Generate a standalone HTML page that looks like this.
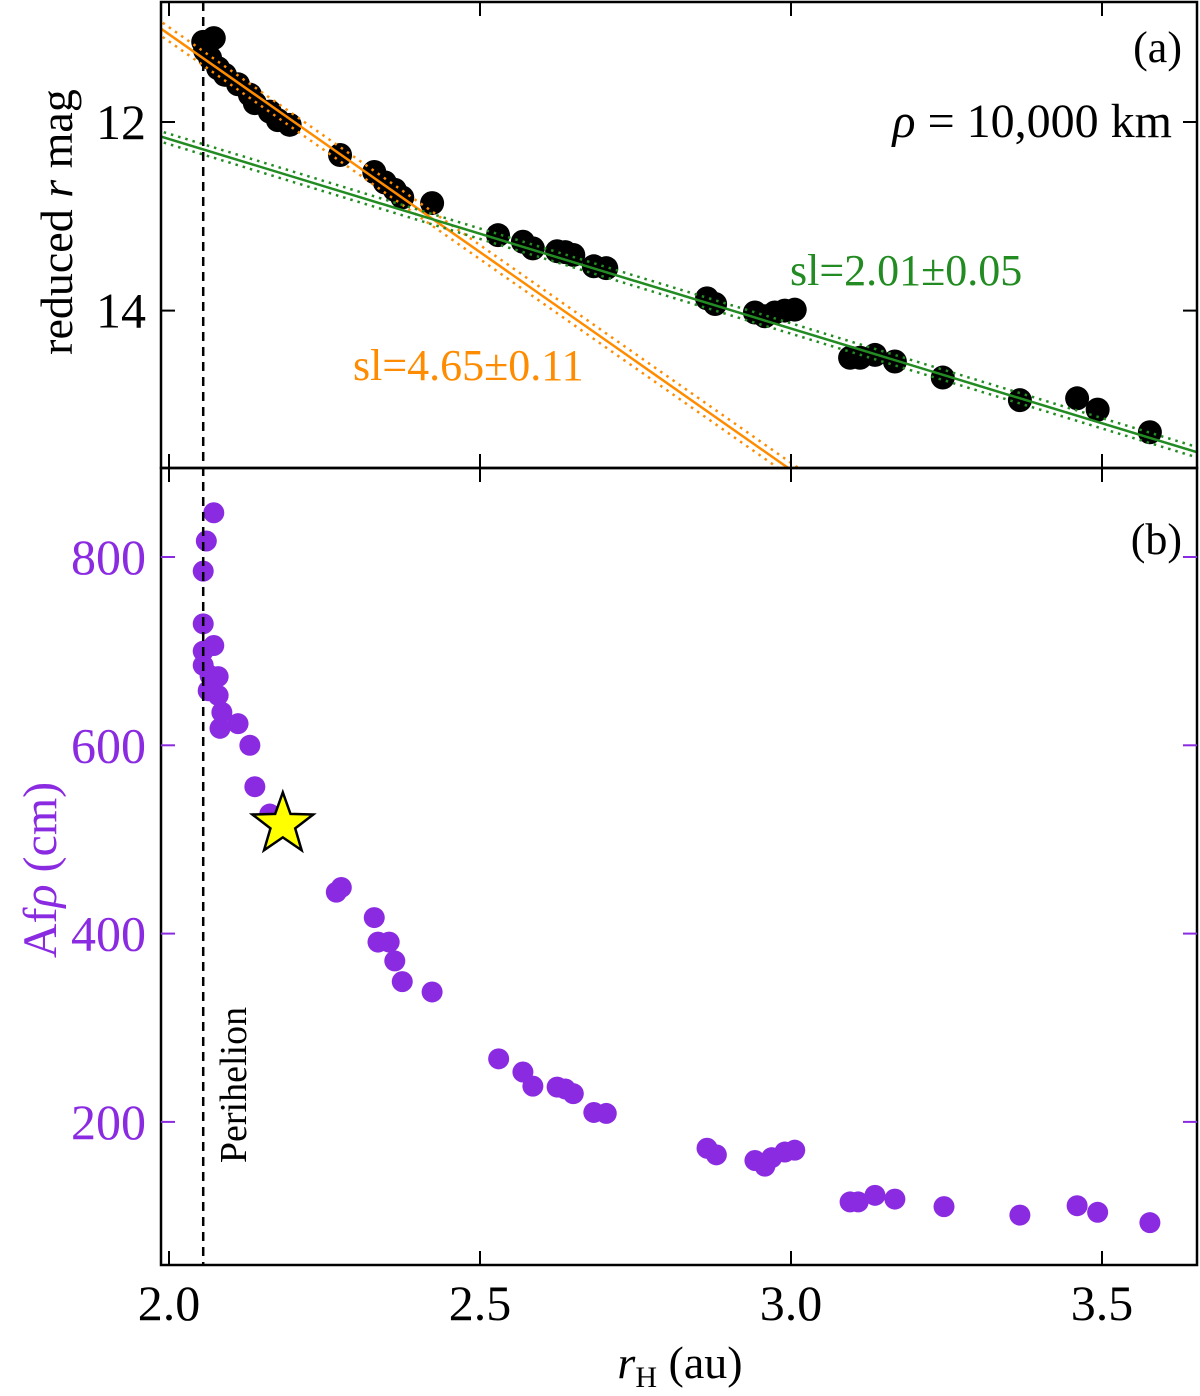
<!DOCTYPE html>
<html><head><meta charset="utf-8"><style>
body{margin:0;background:#fff}
svg{display:block;font-family:"Liberation Serif",serif}
</style></head><body>
<svg id="c" width="1200" height="1396" viewBox="0 0 1200 1396" xmlns="http://www.w3.org/2000/svg"></svg>
<script>
const rTop=[2.055,2.072,2.058,2.066,2.079,2.090,2.111,2.130,2.138,2.162,2.175,2.194,2.275,2.330,2.347,2.363,2.375,2.423,2.529,2.569,2.585,2.624,2.637,2.650,2.683,2.703,2.865,2.878,2.942,2.958,2.974,2.990,3.006,3.095,3.111,3.135,3.167,3.244,3.368,3.460,3.493,3.577];
const magTop=[11.15,11.11,11.24,11.32,11.43,11.50,11.60,11.71,11.80,11.89,11.98,12.03,12.35,12.53,12.64,12.72,12.80,12.86,13.20,13.27,13.34,13.37,13.38,13.41,13.53,13.55,13.87,13.93,14.02,14.06,14.02,14.00,13.99,14.50,14.50,14.47,14.54,14.71,14.95,14.93,15.05,15.29];
const rBot=[2.055,2.060,2.072,2.055,2.055,2.055,2.072,2.066,2.079,2.063,2.079,2.085,2.082,2.111,2.130,2.138,2.162,2.175,2.269,2.277,2.330,2.336,2.354,2.363,2.375,2.423,2.530,2.569,2.585,2.624,2.637,2.650,2.683,2.703,2.865,2.880,2.942,2.958,2.969,2.990,3.006,3.095,3.108,3.135,3.167,3.246,3.368,3.460,3.493,3.577];
const afBot=[785,817,847,729,700,685,706,674,673,658,653,635,618,623,600,556,527,519,444,449,417,391,391,371,349,338,267,253,238,237,235,230,210,209,172,165,159,153,162,168,170,115,115,122,118,110,101,111,104,93];
const starR=[2.183], starAf=[516];
const orangeSl=4.62, orangeA=11.07, greenSl=2.01, greenA=12.18;
const xTicks=[2.0,2.5,3.0,3.5], magTicks=[12,14], afTicks=[200,400,600,800];

const S=document.getElementById('c'),NS='http://www.w3.org/2000/svg';
const X=r=>169+(r-2)*622;
const Ym=m=>122+(m-12)*94.3;
const Ya=a=>557+(800-a)*0.9415;
const L=161,R=1197,T=2,M=468,B=1265;
function el(t,a,p){const e=document.createElementNS(NS,t);for(const k in a)e.setAttribute(k,a[k]);(p||S).appendChild(e);return e;}
function tx(s,a){const e=el('text',a);e.textContent=s;return e;}
const defs=el('defs',{});
const c1=el('clipPath',{id:'ct'},defs);el('rect',{x:L,y:T,width:R-L,height:M-T},c1);
const c2=el('clipPath',{id:'cb'},defs);el('rect',{x:L,y:M,width:R-L,height:B-M},c2);
const gt=el('g',{'clip-path':'url(#ct)'});
const gb=el('g',{'clip-path':'url(#cb)'});
const ph=el('line',{x1:X(2.055),x2:X(2.055),y1:T,y2:B,stroke:'#000','stroke-width':2.5,'stroke-dasharray':'9,6'});

rTop.forEach((r,i)=>{const c=el('circle',{cx:X(r),cy:Ym(magTop[i]),r:12,fill:'#000'},gt);
});
function fit(a,sl,col,name,off){const r0=1.98,r1=3.7;
 [[0,'none'],[off,'2.5,5'],[-off,'2.5,5']].forEach(([o,d],k)=>{
  const l=el('line',{x1:X(r0),y1:Ym(a+sl*(r0-2)+o),x2:X(r1),y2:Ym(a+sl*(r1-2)+o),stroke:col,'stroke-width':2.5,'stroke-dasharray':d},gt);
  });}
fit(orangeA,orangeSl,'#ff8c00','orange-fit',0.075);
fit(greenA,greenSl,'#228b22','green-fit',0.055);
rBot.forEach((r,i)=>{const c=el('circle',{cx:X(r),cy:Ya(afBot[i]),r:10.5,fill:'#8a2be2'},gb);
});
starR.forEach((r,i)=>{const cx=X(r),cy=Ya(starAf[i]);let p='';for(let k=0;k<10;k++){const rr=k%2?13:32,a=-Math.PI/2+k*Math.PI/5;p+=(cx+rr*Math.cos(a))+','+(cy+rr*Math.sin(a))+' ';}
const s=el('polygon',{points:p,fill:'#ffff00',stroke:'#000','stroke-width':2.5},gb);
});
[[T,M],[M,B]].forEach(([a,b])=>{el('rect',{x:L,y:a,width:R-L,height:b-a,fill:'none',stroke:'#000','stroke-width':2.5});});
xTicks.forEach(v=>{const x=X(v);
 [[T,1],[M,-1],[M,1],[B,-1]].forEach(([y,d])=>el('line',{x1:x,x2:x,y1:y,y2:y+d*14,stroke:'#000','stroke-width':2}));
 const t=tx(v.toFixed(1),{x:x,y:1320,'font-size':50,'text-anchor':'middle'});
 });
magTicks.forEach(v=>{const y=Ym(v);
 el('line',{x1:L,x2:L+14,y1:y,y2:y,stroke:'#000','stroke-width':2});el('line',{x1:R,x2:R-14,y1:y,y2:y,stroke:'#000','stroke-width':2});
 const t=tx(String(v),{x:146,y:y+17,'font-size':50,'text-anchor':'end'});
 });
afTicks.forEach(v=>{const y=Ya(v);
 el('line',{x1:L,x2:L+14,y1:y,y2:y,stroke:'#8a2be2','stroke-width':2});el('line',{x1:R,x2:R-14,y1:y,y2:y,stroke:'#8a2be2','stroke-width':2});
 const t=tx(String(v),{x:146,y:y+17,'font-size':50,'text-anchor':'end',fill:'#8a2be2'});
 });
</script>
<div style="position:absolute;left:0;top:0;width:1200px;height:1396px;pointer-events:none;font-family:'Liberation Serif',serif">
<svg width="1200" height="1396" style="position:absolute;left:0;top:0">
<text x="680" y="1378" font-size="46" text-anchor="middle"><tspan font-style="italic">r</tspan><tspan font-size="30" dy="9">H</tspan><tspan dy="-9"> (au)</tspan></text>
<text transform="translate(72,222) rotate(-90)" font-size="46" text-anchor="middle">reduced <tspan font-style="italic">r</tspan> mag</text>
<text transform="translate(56,870) rotate(-90)" font-size="48" text-anchor="middle" fill="#8a2be2">Af<tspan font-style="italic">ρ</tspan> (cm)</text>
<text x="1182" y="62" font-size="44" text-anchor="end">(a)</text>
<text x="1182" y="554" font-size="44" text-anchor="end">(b)</text>
<text x="1172" y="137" font-size="48" text-anchor="end"><tspan font-style="italic">ρ</tspan> = 10,000 km</text>
<text x="790" y="285" font-size="44" fill="#228b22">sl=2.01±0.05</text>
<text x="353" y="380" font-size="44" fill="#ff8c00">sl=4.65±0.11</text>
<text transform="translate(246,1085) rotate(-90)" font-size="38" text-anchor="middle">Perihelion</text>
</svg></div>
</body></html>
